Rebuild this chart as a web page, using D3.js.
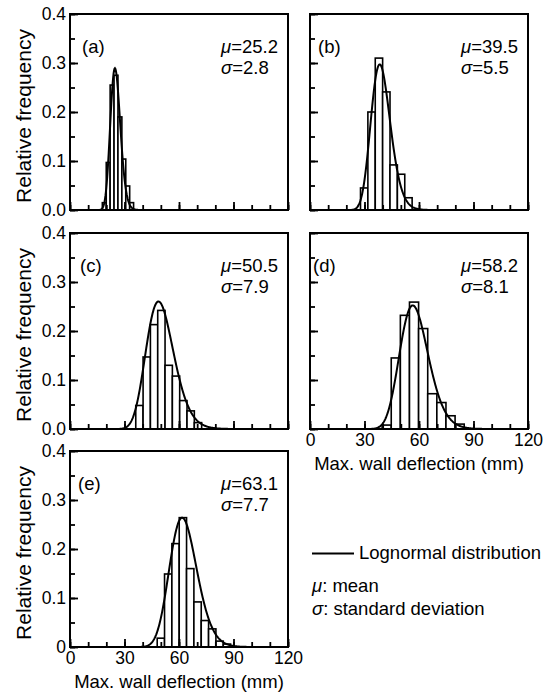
<!DOCTYPE html>
<html>
<head>
<meta charset="UTF-8">
<script src="https://cdnjs.cloudflare.com/ajax/libs/d3/7.8.5/d3.min.js"></script>
<style>
  body { margin: 0; background: #fff; }
  text { font-family: "Liberation Sans", Arial, sans-serif; fill: #000; }
</style>
</head>
<body>
<svg id="chart" width="551" height="693"></svg>
<script>
// panel data
const panelNames = ["(a)", "(b)", "(c)", "(d)", "(e)"];
const means = [25.2, 39.5, 50.5, 58.2, 63.1];
const sds = [2.8, 5.5, 7.9, 8.1, 7.7];
const binStarts = [17.8, 27.8, 36.2, 39.7, 48.0];
const binWidths = [2.15, 4.06, 4.03, 5.02, 4.04];
const curveBins = [2.0, 4.0, 5.0, 5.0, 5.0];   // scale of the fitted curve
const freqA = [0.015, 0.097, 0.255, 0.275, 0.19, 0.104, 0.049, 0.015];
const freqB = [0.045, 0.2, 0.31, 0.241, 0.092, 0.073, 0.025];
const freqC = [0.048, 0.147, 0.213, 0.242, 0.13, 0.108, 0.058, 0.037, 0.013];
const freqD = [0.008, 0.145, 0.232, 0.259, 0.205, 0.072, 0.054, 0.027, 0.01];
const freqE = [0.018, 0.149, 0.211, 0.264, 0.16, 0.092, 0.054, 0.037, 0.012, 0.006];
const freqs = [freqA, freqB, freqC, freqD, freqE];

const xMajor = [0, 30, 60, 90, 120];
const xMinor = d3.range(0, 121, 10);
const yMajor = [0, 0.1, 0.2, 0.3, 0.4];
const yMinor = d3.range(0, 0.401, 0.05);

// layout
const pw = 218, ph = 196;
const origins = [[70, 14], [310, 14], [70, 233], [310, 233], [70, 451]];
const labelDx = [12, 8, 10, 3, 8];
const showYLabels = [true, false, true, false, true];
const showXLabels = [false, false, false, true, true];

const svg = d3.select("#chart");

function lognormal(x, m, s) {
  const s2 = Math.log(1 + (s * s) / (m * m));
  const mu = Math.log(m) - s2 / 2;
  return Math.exp(-Math.pow(Math.log(x) - mu, 2) / (2 * s2)) / (x * Math.sqrt(2 * Math.PI * s2));
}

const x = d3.scaleLinear().domain([0, 120]).range([0, pw]);
const y = d3.scaleLinear().domain([0, 0.4]).range([ph, 0]);

panelNames.forEach((name, i) => {
  const g = svg.append("g").attr("transform", `translate(${origins[i][0]},${origins[i][1]})`);

  g.append("clipPath").attr("id", "clip" + i)
    .append("rect").attr("width", pw).attr("height", ph);

  const body = g.append("g").attr("clip-path", `url(#clip${i})`);

  body.selectAll("rect.bar")
    .data(freqs[i])
    .join("rect")
    .attr("class", "bar")
    .attr("x", (d, j) => x(binStarts[i] + j * binWidths[i]))
    .attr("width", x(binWidths[i]) - x(0))
    .attr("y", d => y(d))
    .attr("height", d => ph - y(d))
    .attr("fill", "#fff")
    .attr("stroke", "#000")
    .attr("stroke-width", 1.6);

  const xs = d3.range(1, 120.01, 0.25);
  const line = d3.line()
    .x(d => x(d))
    .y(d => y(lognormal(d, means[i], sds[i]) * curveBins[i]));

  body.append("path")
    .datum(xs)
    .attr("d", line)
    .attr("fill", "none")
    .attr("stroke", "#000")
    .attr("stroke-width", 2);

  // minor ticks
  g.append("g").attr("transform", `translate(0,${ph})`)
    .call(d3.axisBottom(x).tickValues(xMinor).tickSize(-5).tickFormat(""))
    .call(a => a.select(".domain").remove());
  g.append("g")
    .call(d3.axisLeft(y).tickValues(yMinor).tickSize(-5).tickFormat(""))
    .call(a => a.select(".domain").remove());

  // major ticks
  const xa = g.append("g").attr("transform", `translate(0,${ph})`)
    .call(d3.axisBottom(x).tickValues(xMajor).tickSize(-8).tickPadding(5)
      .tickFormat(showXLabels[i] ? d3.format("d") : ""));
  xa.select(".domain").remove();

  const ya = g.append("g")
    .call(d3.axisLeft(y).tickValues(yMajor).tickSize(-8).tickPadding(4)
      .tickFormat(showYLabels[i] ? (d => (i === 4 && d === 0) ? "0" : d3.format(".1f")(d)) : ""));
  ya.select(".domain").remove();

  g.selectAll(".tick line").attr("stroke-width", 1.8);
  g.selectAll(".tick text").attr("font-size", 17.5).attr("font-family", "Liberation Sans, Arial, sans-serif");

  // frame
  g.append("rect")
    .attr("width", pw).attr("height", ph)
    .attr("fill", "none").attr("stroke", "#000").attr("stroke-width", 2);

  g.append("text").attr("x", labelDx[i]).attr("y", 39)
    .attr("font-size", 18.5).text(name);

  const t1 = g.append("text").attr("x", pw - 67).attr("y", 39).attr("font-size", 18.5);
  t1.append("tspan").attr("font-style", "italic").text("μ");
  t1.append("tspan").text("=" + means[i]);
  const t2 = g.append("text").attr("x", pw - 67).attr("y", 60).attr("font-size", 18.5);
  t2.append("tspan").attr("font-style", "italic").text("σ");
  t2.append("tspan").text("=" + sds[i]);

  if (showYLabels[i]) {
    g.append("text")
      .attr("transform", `translate(${31 - origins[i][0]},${ph / 2 + 4}) rotate(-90)`)
      .attr("text-anchor", "middle")
      .attr("font-size", 21)
      .text("Relative frequency");
  }
  if (showXLabels[i]) {
    g.append("text")
      .attr("x", pw / 2).attr("y", ph + 41)
      .attr("text-anchor", "middle")
      .attr("font-size", 18.5)
      .text("Max. wall deflection (mm)");
  }
});

// legend
const lg = svg.append("g");
lg.append("line").attr("x1", 312).attr("x2", 354).attr("y1", 553.5).attr("y2", 553.5)
  .attr("stroke", "#000").attr("stroke-width", 2);
lg.append("text").attr("x", 359).attr("y", 559).attr("font-size", 18.5).text("Lognormal distribution");
const l1 = lg.append("text").attr("x", 312).attr("y", 592).attr("font-size", 18.5);
l1.append("tspan").attr("font-style", "italic").text("μ");
l1.append("tspan").text(": mean");
const l2 = lg.append("text").attr("x", 312).attr("y", 615).attr("font-size", 18.5);
l2.append("tspan").attr("font-style", "italic").text("σ");
l2.append("tspan").text(": standard deviation");
</script>
</body>
</html>
